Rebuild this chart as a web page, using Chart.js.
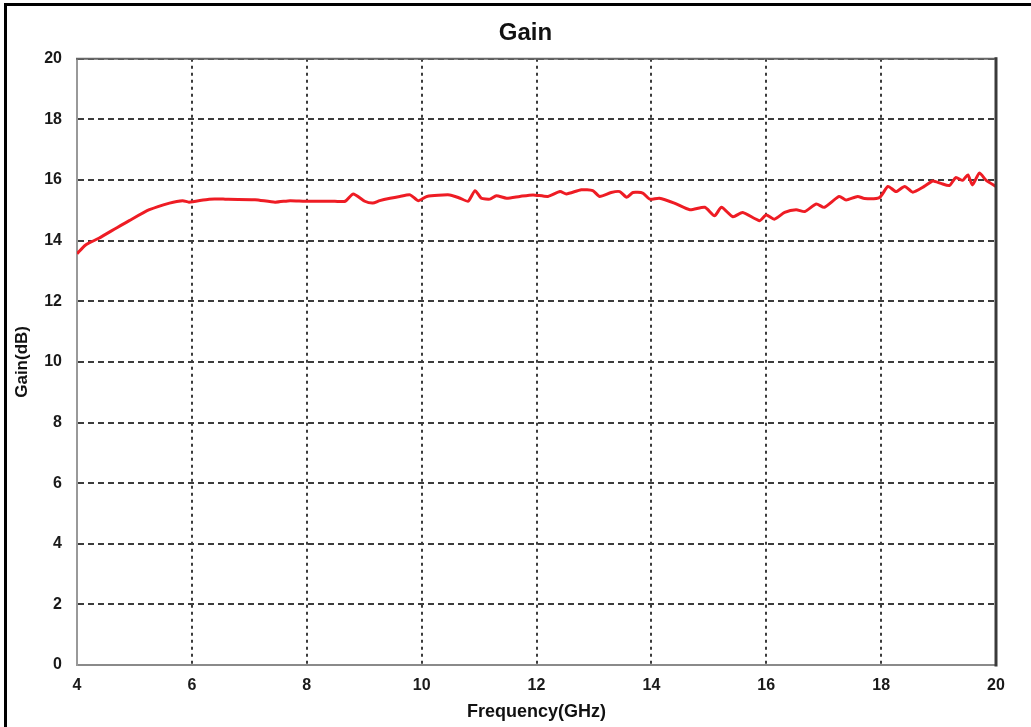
<!DOCTYPE html>
<html>
<head>
<meta charset="utf-8">
<title>Gain</title>
<script src="https://cdn.jsdelivr.net/npm/chart.js@4"></script>
<style>
  html, body { margin: 0; padding: 0; background: #fff; }
  #wrap { position: relative; width: 1031px; height: 727px; overflow: hidden; }
  #gainChart { position: absolute; left: 0; top: 0; }
  #frame {
    position: absolute; left: 4px; top: 3px; right: -4px; bottom: -4px;
    border-left: 3px solid #000; border-top: 3px solid #000;
    pointer-events: none;
  }
</style>
</head>
<body>
<div id="wrap">
  <canvas id="gainChart" width="1031" height="727"></canvas>
  <div id="frame"></div>
</div>
<script>
// values
const freqGHz = [
  4.00, 4.15, 4.38, 4.68, 4.91, 5.26, 5.61, 5.84, 5.95, 6.30,
  6.58, 7.10, 7.45, 7.71, 7.97, 8.49, 8.67, 8.81, 9.01, 9.15,
  9.27, 9.45, 9.62, 9.80, 9.94, 10.09, 10.49, 10.67, 10.81, 10.93,
  11.04, 11.19, 11.30, 11.48, 11.71, 11.94, 12.20, 12.41, 12.52, 12.78,
  12.98, 13.10, 13.30, 13.45, 13.57, 13.68, 13.85, 13.97, 14.14, 14.40,
  14.67, 14.93, 15.10, 15.22, 15.42, 15.59, 15.88, 16.00, 16.14, 16.32,
  16.52, 16.67, 16.87, 17.01, 17.27, 17.39, 17.59, 17.71, 17.97, 18.12,
  18.26, 18.41, 18.55, 18.75, 18.90, 19.04, 19.19, 19.30, 19.42, 19.51,
  19.59, 19.71, 19.83, 20.00
];
const gainDb = [
  13.57, 13.86, 14.08, 14.41, 14.66, 15.02, 15.24, 15.32, 15.27, 15.37,
  15.37, 15.35, 15.27, 15.32, 15.30, 15.30, 15.30, 15.54, 15.30, 15.24,
  15.32, 15.40, 15.46, 15.51, 15.32, 15.46, 15.51, 15.40, 15.30, 15.65,
  15.40, 15.37, 15.48, 15.40, 15.46, 15.51, 15.46, 15.62, 15.54, 15.68,
  15.65, 15.46, 15.59, 15.62, 15.43, 15.59, 15.57, 15.37, 15.40, 15.24,
  15.02, 15.10, 14.82, 15.10, 14.79, 14.93, 14.66, 14.85, 14.71, 14.93,
  15.02, 14.96, 15.21, 15.10, 15.46, 15.34, 15.46, 15.39, 15.42, 15.79,
  15.62, 15.79, 15.60, 15.79, 15.97, 15.89, 15.82, 16.08, 15.99, 16.17,
  15.84, 16.23, 15.99, 15.79
];
const xTicks = { min: 4, max: 20, step: 2 };
const yTicks = { min: 0, max: 20, step: 2 };

document.addEventListener('DOMContentLoaded', function () {
  const points = freqGHz.map((f, i) => ({ x: f, y: gainDb[i] }));

  // plot box: light left/bottom, darker top, heavy right edge
  const plotFrame = {
    id: 'plotFrame',
    afterDatasetsDraw(chart) {
      const { ctx, chartArea: a } = chart;
      ctx.save();
      ctx.lineCap = 'square';
      ctx.strokeStyle = '#666';
      ctx.lineWidth = 2;
      ctx.beginPath();
      ctx.moveTo(a.left, a.top);
      ctx.lineTo(a.right, a.top);
      ctx.stroke();
      ctx.strokeStyle = '#3a3a3a';
      ctx.lineWidth = 3;
      ctx.beginPath();
      ctx.moveTo(a.right, a.top);
      ctx.lineTo(a.right, a.bottom);
      ctx.stroke();
      ctx.restore();
    }
  };

  const tickFont = { family: 'Liberation Sans, Arial, sans-serif', size: 16, weight: 'bold' };

  const ctx = document.getElementById('gainChart').getContext('2d');
  new Chart(ctx, {
    type: 'line',
    data: {
      datasets: [{
        label: 'Gain',
        data: points,
        borderColor: '#ee1c24',
        borderWidth: 3,
        pointRadius: 0,
        tension: 0.2,
        fill: false
      }]
    },
    plugins: [plotFrame],
    options: {
      responsive: false,
      animation: false,
      layout: { padding: { left: 20, right: 0, top: 0, bottom: 0 } },
      plugins: {
        legend: { display: false },
        tooltip: { enabled: false },
        title: {
          display: true,
          text: 'Gain',
          color: '#111',
          font: { family: 'Liberation Sans, Arial, sans-serif', size: 24, weight: 'bold' },
          padding: { top: 19, bottom: 11 }
        }
      },
      scales: {
        x: {
          type: 'linear',
          min: xTicks.min,
          max: xTicks.max,
          afterFit: scale => { scale.height = 62; },
          ticks: {
            stepSize: xTicks.step,
            padding: 11,
            color: '#1a1a1a',
            font: tickFont
          },
          grid: { color: '#3c3c3c', lineWidth: 2, drawTicks: false },
          border: { color: '#8a8a8a', width: 2, dash: [3, 4] },
          title: {
            display: true,
            text: 'Frequency(GHz)',
            color: '#111',
            font: { family: 'Liberation Sans, Arial, sans-serif', size: 18, weight: 'bold' },
            padding: { top: 0, bottom: 4 }
          }
        },
        y: {
          min: yTicks.min,
          max: yTicks.max,
          afterFit: scale => { scale.width = 57; },
          ticks: {
            stepSize: yTicks.step,
            padding: 15,
            color: '#1a1a1a',
            font: tickFont
          },
          grid: { color: '#3c3c3c', lineWidth: 2, drawTicks: false },
          border: { color: '#999', width: 2, dash: [6, 4] },
          title: {
            display: true,
            text: 'Gain(dB)',
            color: '#111',
            font: { family: 'Liberation Sans, Arial, sans-serif', size: 17, weight: 'bold' },
            padding: { top: -8, bottom: 0 }
          }
        },
        y2: {
          position: 'right',
          min: yTicks.min,
          max: yTicks.max,
          afterFit: scale => { scale.width = 35; },
          ticks: { display: false },
          grid: { display: false, drawOnChartArea: false },
          border: { display: false }
        }
      }
    }
  });
});
</script>
</body>
</html>
